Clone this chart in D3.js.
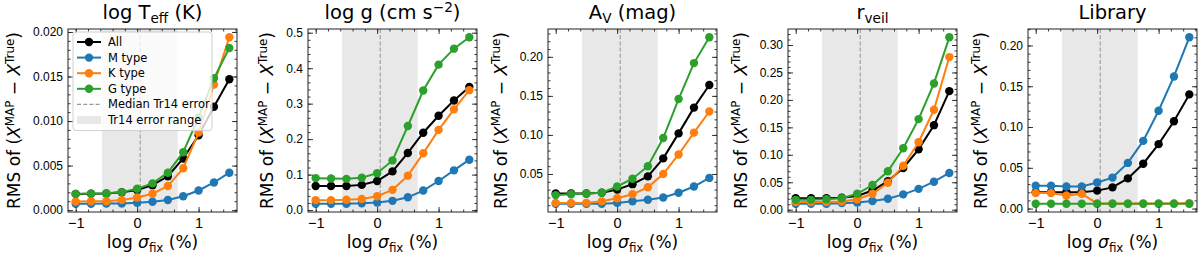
<!DOCTYPE html>
<html>
<head>
<meta charset="utf-8">
<script src="https://cdn.jsdelivr.net/npm/d3@7"></script>
<style>
  body { margin: 0; background: #fff; }
  svg { display: block; font-family: "DejaVu Sans", sans-serif; }
</style>
</head>
<body>
<script>
// x positions: log sigma_fix (%)
const xVals = [-1, -0.75, -0.5, -0.25, 0, 0.25, 0.5, 0.75, 1, 1.25, 1.5];

// log Teff
const teffAll = [0.00182, 0.00184, 0.00185, 0.0020, 0.00226, 0.0028, 0.0038, 0.0058, 0.0084, 0.0116, 0.0147];
const teffM   = [0.00072, 0.00072, 0.00073, 0.00075, 0.00083, 0.00093, 0.00113, 0.00155, 0.0022, 0.0031, 0.0042];
const teffK   = [0.00097, 0.00099, 0.001, 0.00112, 0.00142, 0.00184, 0.0027, 0.0047, 0.0087, 0.0141, 0.0194];
const teffG   = [0.00182, 0.00185, 0.0019, 0.00202, 0.0024, 0.0030, 0.0042, 0.0065, 0.0104, 0.0148, 0.0182];

// log g
const loggAll = [0.068, 0.068, 0.068, 0.071, 0.082, 0.109, 0.161, 0.218, 0.266, 0.309, 0.347];
const loggM   = [0.018, 0.018, 0.018, 0.019, 0.021, 0.026, 0.036, 0.055, 0.082, 0.112, 0.142];
const loggK   = [0.028, 0.028, 0.029, 0.031, 0.039, 0.057, 0.097, 0.160, 0.226, 0.284, 0.338];
const loggG   = [0.090, 0.089, 0.088, 0.091, 0.104, 0.140, 0.237, 0.337, 0.410, 0.455, 0.487];

// A_V
const avAll = [0.025, 0.025, 0.025, 0.026, 0.030, 0.037, 0.047, 0.070, 0.102, 0.135, 0.164];
const avM   = [0.012, 0.012, 0.012, 0.012, 0.013, 0.015, 0.017, 0.020, 0.026, 0.034, 0.045];
const avK   = [0.013, 0.013, 0.013, 0.015, 0.019, 0.024, 0.033, 0.050, 0.075, 0.103, 0.130];
const avG   = [0.023, 0.024, 0.025, 0.026, 0.034, 0.044, 0.060, 0.096, 0.146, 0.192, 0.225];

// r_veil
const rvAll = [0.021, 0.021, 0.021, 0.022, 0.025, 0.035, 0.052, 0.076, 0.110, 0.154, 0.216];
const rvM   = [0.011, 0.011, 0.011, 0.012, 0.013, 0.016, 0.020, 0.028, 0.038, 0.051, 0.067];
const rvK   = [0.014, 0.014, 0.014, 0.015, 0.019, 0.029, 0.049, 0.080, 0.123, 0.182, 0.278];
const rvG   = [0.018, 0.018, 0.019, 0.021, 0.029, 0.045, 0.070, 0.112, 0.165, 0.230, 0.314];

// Library
const libAll = [0.020, 0.020, 0.020, 0.020, 0.022, 0.026, 0.037, 0.055, 0.079, 0.107, 0.140];
const libM   = [0.028, 0.028, 0.027, 0.027, 0.032, 0.038, 0.056, 0.083, 0.120, 0.162, 0.210];
const libK   = [0.019, 0.019, 0.016, 0.018, 0.0063, 0.0063, 0.0063, 0.0063, 0.0063, 0.0064, 0.0065];
const libG   = [0.006, 0.006, 0.006, 0.006, 0.006, 0.006, 0.006, 0.006, 0.006, 0.006, 0.006];

// Tr14 reference
const tr14Median = 0.05;
const tr14Range = [-0.57, 0.66];

const seriesNames = ["All", "M type", "K type", "G type"];
const seriesColors = ["#000000", "#1f77b4", "#ff7f0e", "#2ca02c"];

const xTicks = [-1, 0, 1];
const yTicksTeff = [0, 0.005, 0.01, 0.015, 0.02];
const yTicksLogg = [0, 0.1, 0.2, 0.3, 0.4, 0.5];
const yTicksAv = [0.05, 0.10, 0.15, 0.20];
const yTicksRv = [0, 0.05, 0.10, 0.15, 0.20, 0.25, 0.30];
const yTicksLib = [0, 0.05, 0.10, 0.15, 0.20];

// titles as rich-text parts
const titleTeff = [{t: "log T"}, {t: "eff", s: "sub"}, {t: " (K)"}];
const titleLogg = [{t: "log g (cm s"}, {t: "\u22122", s: "sup"}, {t: ")"}];
const titleAv = [{t: "A"}, {t: "V", s: "sub"}, {t: " (mag)"}];
const titleRv = [{t: "r"}, {t: "veil", s: "sub"}];
const titleLib = [{t: "Library"}];

const yLabelParts = [{t: "RMS of ("}, {t: "X", i: true}, {t: "MAP", s: "sup"}, {t: " \u2212 "}, {t: "X", i: true}, {t: "True", s: "sup"}, {t: ")"}];
const xLabelParts = [{t: "log "}, {t: "\u03c3", i: true}, {t: "fix", s: "sub"}, {t: " (%)"}];

const panels = [
  {title: titleTeff, yTicks: yTicksTeff, fmt: ".3f", minor: 0.001, series: [teffAll, teffM, teffK, teffG], legend: true},
  {title: titleLogg, yTicks: yTicksLogg, fmt: ".1f", minor: 0.02, series: [loggAll, loggM, loggK, loggG]},
  {title: titleAv, yTicks: yTicksAv, fmt: ".2f", minor: 0.01, series: [avAll, avM, avK, avG]},
  {title: titleRv, yTicks: yTicksRv, fmt: ".2f", minor: 0.01, series: [rvAll, rvM, rvK, rvG]},
  {title: titleLib, yTicks: yTicksLib, fmt: ".2f", minor: 0.01, series: [libAll, libM, libK, libG]}
];

const W = 1200, H = 257;
const left0 = 68, stride = 240, pw = 169, plotTop = 29, plotBottom = 212;
const xTickFont = 14.5, yTickFont = 12, labelFont = 17, titleFont = 19.5, legendFont = 11.5;

const svg = d3.select("body").append("svg").attr("width", W).attr("height", H);

// write text made of parts with sub/superscripts and italics
function richText(sel, parts, size) {
  let shift = 0;
  parts.forEach(function(p) {
    const ts = sel.append("tspan").text(p.t);
    let target = 0, fs = size;
    if (p.s === "sub") { target = 0.22 * size; fs = size * 0.7; }
    if (p.s === "sup") { target = -0.38 * size; fs = size * 0.7; }
    ts.attr("font-size", fs).attr("dy", target - shift);
    if (p.i) ts.attr("font-style", "italic");
    shift = target;
  });
}

function inward(axis, size) {
  return axis.tickSize(-size).tickSizeOuter(0);
}

const xExt = d3.extent(xVals);
const xPad = (xExt[1] - xExt[0]) * 0.05;
const xMinor = d3.range(-5, 9).map(k => k * 0.2).filter(v => v > xExt[0] - xPad && v < xExt[1] + xPad);

panels.forEach(function(p, i) {
  const x0 = left0 + i * stride;
  const g = svg.append("g").attr("transform", `translate(${x0},0)`);

  const x = d3.scaleLinear().domain([xExt[0] - xPad, xExt[1] + xPad]).range([0, pw]);
  const all = p.series.flat();
  const yMin = d3.min(all), yMax = d3.max(all);
  const yPad = (yMax - yMin) * 0.05;
  const y = d3.scaleLinear().domain([yMin - yPad, yMax + yPad]).range([plotBottom, plotTop]);
  const yMinor = d3.range(Math.ceil(y.domain()[0] / p.minor - 1e-9), Math.floor(y.domain()[1] / p.minor + 1e-9) + 1).map(k => k * p.minor);

  // shaded Tr14 range and median line
  g.append("rect")
    .attr("x", x(tr14Range[0])).attr("y", plotTop)
    .attr("width", x(tr14Range[1]) - x(tr14Range[0])).attr("height", plotBottom - plotTop)
    .attr("fill", "#e8e8e8");
  g.append("line")
    .attr("x1", x(tr14Median)).attr("x2", x(tr14Median))
    .attr("y1", plotTop).attr("y2", plotBottom)
    .attr("stroke", "#999").attr("stroke-width", 1.1).attr("stroke-dasharray", "4,2.2");

  // series
  const line = d3.line().x((d, j) => x(xVals[j])).y(d => y(d));
  p.series.forEach(function(s, k) {
    const sg = g.append("g");
    sg.append("path").datum(s)
      .attr("d", line).attr("fill", "none")
      .attr("stroke", seriesColors[k]).attr("stroke-width", 2);
    sg.selectAll("circle").data(s).join("circle")
      .attr("cx", (d, j) => x(xVals[j])).attr("cy", d => y(d))
      .attr("r", 4.2).attr("fill", seriesColors[k]);
  });

  // axes with inward ticks on all four sides
  const axG = g.append("g").attr("font-family", "DejaVu Sans").attr("color", "#222");
  const fmt = d3.format(p.fmt);

  const bx = axG.append("g").attr("transform", `translate(0,${plotBottom})`)
    .call(inward(d3.axisBottom(x).tickValues(xTicks).tickFormat(d => d < 0 ? "\u2212" + Math.abs(d) : d), 5).tickPadding(5.5));
  axG.append("g").attr("transform", `translate(0,${plotBottom})`)
    .call(inward(d3.axisBottom(x).tickValues(xMinor).tickFormat(""), 2.5));
  axG.append("g").attr("transform", `translate(0,${plotTop})`)
    .call(inward(d3.axisTop(x).tickValues(xTicks).tickFormat(""), 5));
  axG.append("g").attr("transform", `translate(0,${plotTop})`)
    .call(inward(d3.axisTop(x).tickValues(xMinor).tickFormat(""), 2.5));

  const ly = axG.append("g")
    .call(inward(d3.axisLeft(y).tickValues(p.yTicks).tickFormat(fmt), 5).tickPadding(5));
  axG.append("g")
    .call(inward(d3.axisLeft(y).tickValues(yMinor).tickFormat(""), 2.5));
  axG.append("g").attr("transform", `translate(${pw},0)`)
    .call(inward(d3.axisRight(y).tickValues(p.yTicks).tickFormat(""), 5));
  axG.append("g").attr("transform", `translate(${pw},0)`)
    .call(inward(d3.axisRight(y).tickValues(yMinor).tickFormat(""), 2.5));

  axG.selectAll(".domain").remove();
  axG.selectAll("line").attr("stroke-width", 0.9);
  axG.selectAll("text").attr("fill", "#000");
  bx.selectAll("text").attr("font-size", xTickFont);
  ly.selectAll("text").attr("font-size", yTickFont);

  // frame
  g.append("rect").attr("x", 0).attr("y", plotTop).attr("width", pw).attr("height", plotBottom - plotTop)
    .attr("fill", "none").attr("stroke", "#222").attr("stroke-width", 1);

  // title
  const tt = g.append("text").attr("x", pw / 2).attr("y", 19)
    .attr("text-anchor", "middle").attr("font-size", titleFont);
  richText(tt, p.title, titleFont);

  // x label
  const xl = g.append("text").attr("x", pw / 2).attr("y", 248)
    .attr("text-anchor", "middle").attr("font-size", labelFont);
  richText(xl, xLabelParts, labelFont);

  // y label, placed left of the tick labels
  let tickLeft = 0;
  ly.selectAll("text").each(function() {
    const b = this.getBBox();
    tickLeft = Math.min(tickLeft, b.x - 5);
  });
  const yl = g.append("text")
    .attr("transform", `translate(${tickLeft - 8},${(plotTop + plotBottom) / 2}) rotate(-90)`)
    .attr("text-anchor", "middle").attr("font-size", labelFont);
  richText(yl, yLabelParts, labelFont);

  // legend in first panel
  if (p.legend) {
    const lg = g.append("g").attr("transform", `translate(5,3)`);
    const rowH = 15.6, y0 = plotTop + 10;
    const entries = seriesNames.map((n, k) => ({name: n, type: "series", color: seriesColors[k]}))
      .concat([{name: "Median Tr14 error", type: "dash"}, {name: "Tr14 error range", type: "patch"}]);
    lg.append("rect").attr("x", 0).attr("y", plotTop).attr("width", 139).attr("height", rowH * entries.length + 5)
      .attr("rx", 3).attr("fill", "#fff").attr("fill-opacity", 0.8)
      .attr("stroke", "#d0d0d0").attr("stroke-width", 1);
    entries.forEach(function(e, k) {
      const cy = y0 + k * rowH;
      if (e.type === "series") {
        lg.append("line").attr("x1", 4).attr("x2", 28).attr("y1", cy).attr("y2", cy)
          .attr("stroke", e.color).attr("stroke-width", 2);
        lg.append("circle").attr("cx", 16).attr("cy", cy).attr("r", 4.2).attr("fill", e.color);
      } else if (e.type === "dash") {
        lg.append("line").attr("x1", 4).attr("x2", 28).attr("y1", cy).attr("y2", cy)
          .attr("stroke", "#999").attr("stroke-width", 1.1).attr("stroke-dasharray", "4,2.2");
      } else {
        lg.append("rect").attr("x", 4).attr("y", cy - 4).attr("width", 24).attr("height", 8)
          .attr("fill", "#e8e8e8");
      }
      lg.append("text").attr("x", 35).attr("y", cy).attr("dy", "0.35em")
        .attr("font-size", legendFont).text(e.name);
    });
  }
});
</script>
</body>
</html>
